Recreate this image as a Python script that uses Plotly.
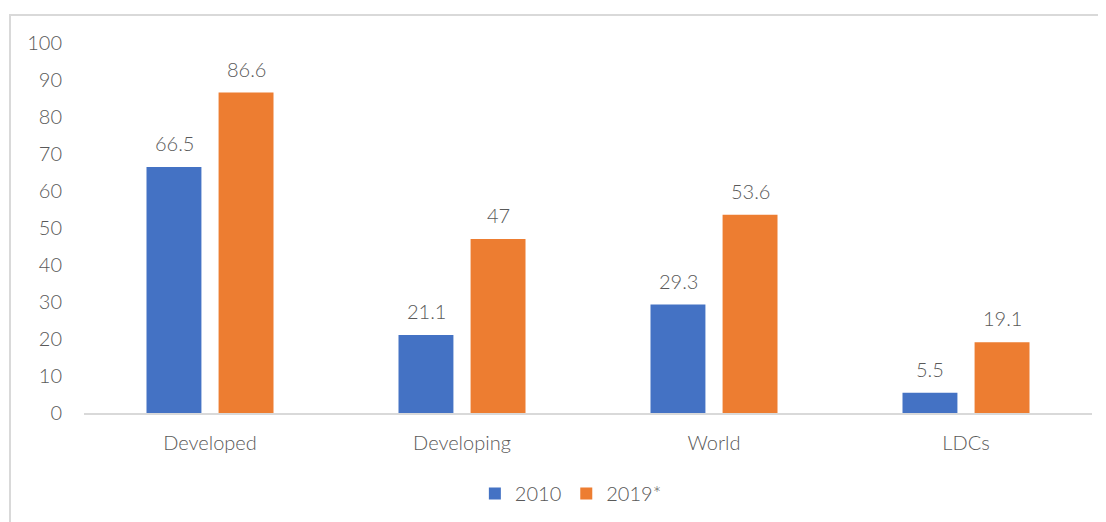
import plotly.graph_objects as go

categories = ["Developed", "Developing", "World", "LDCs"]
values_2010 = [66.5, 21.1, 29.3, 5.5]
values_2019 = [86.6, 47, 53.6, 19.1]
series_names = ["2010", "2019*"]
colors = ["#4472C4", "#ED7D31"]

FONT = "Lato, Carlito, Calibri, sans-serif"
FS = 20
TXT = "#595959"

fig = go.Figure()
for name, vals, col in zip(series_names, [values_2010, values_2019], colors):
    fig.add_trace(go.Bar(x=categories, y=vals, name=name, marker_color=col,
                         marker_line_width=0, hoverinfo="x+y"))

# value labels above bars
for shift, vals in zip([-36, 36], [values_2010, values_2019]):
    for c, v in zip(categories, vals):
        fig.add_annotation(x=c, y=v, text=f"{v:g}", showarrow=False,
                           xshift=shift, yanchor="bottom", yshift=10,
                           font=dict(family=FONT, size=FS, color=TXT, weight=300))

# chart frame
fig.add_shape(type="rect", xref="paper", yref="paper",
              x0=-0.0734, x1=1.05, y0=-0.4, y1=1.0757,
              line=dict(color="#D9D9D9", width=2), fillcolor="rgba(0,0,0,0)",
              layer="below")

# the page body adds an 8px margin, so the figure is 8px smaller and margins shifted
fig.update_layout(
    width=1098, height=514,
    margin=dict(l=76, r=14, t=35, b=109, autoexpand=False),
    paper_bgcolor="white", plot_bgcolor="white",
    barmode="group", bargap=0.428, bargroupgap=0.238,
    font=dict(family=FONT, size=FS, color=TXT, weight=300),
    showlegend=True,
    legend=dict(orientation="h", x=0.483, xanchor="center", y=-0.165, yanchor="top",
                font=dict(family=FONT, size=FS, color=TXT, weight=300),
                itemwidth=30, tracegroupgap=0),
    xaxis=dict(showline=True, linecolor="#D9D9D9", linewidth=2, ticks="",
               ticklabelstandoff=11, automargin=False,
               tickfont=dict(family=FONT, size=FS, color=TXT, weight=300),
               showgrid=False, zeroline=False),
    yaxis=dict(range=[0, 100], dtick=10, tick0=0, showgrid=False, zeroline=False,
               showline=False, ticks="", ticklabelstandoff=21, automargin=False,
               tickfont=dict(family=FONT, size=FS, color=TXT, weight=300)),
)

fig.write_html("out.html")
